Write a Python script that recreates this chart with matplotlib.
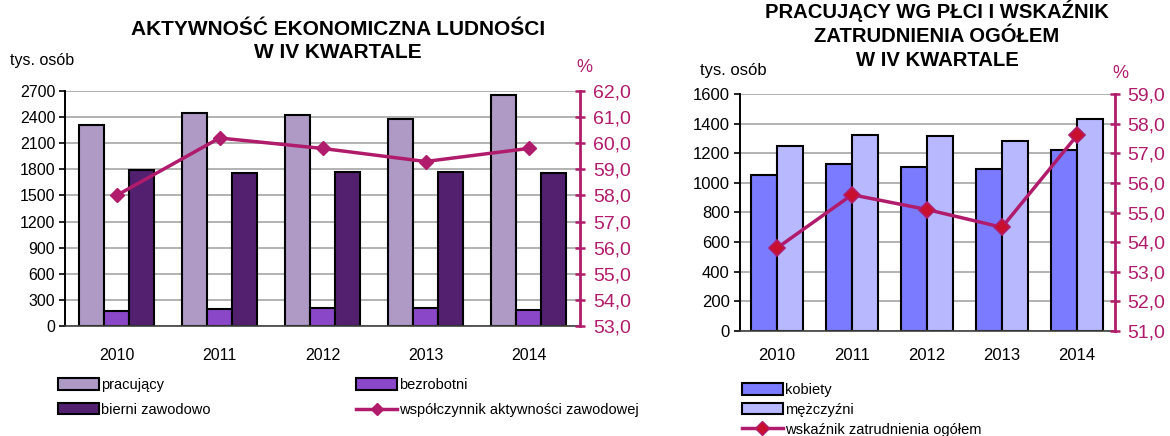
import numpy as np
import matplotlib.pyplot as plt
from matplotlib.patches import Patch
from matplotlib.lines import Line2D
from matplotlib.ticker import FuncFormatter

plt.rcParams['font.family'] = ['Liberation Sans', 'DejaVu Sans']

years = ['2010', '2011', '2012', '2013', '2014']

# aktywnosc ekonomiczna (tys. osob)
pracujacy = [2305, 2448, 2425, 2382, 2652]
bezrobotni = [177, 196, 208, 212, 188]
bierni = [1791, 1753, 1764, 1772, 1757]
wsp_aktywnosci = [58.0, 60.2, 59.8, 59.3, 59.8]

# pracujacy wg plci (tys. osob)
kobiety = [1052, 1125, 1107, 1095, 1225]
mezczyzni = [1252, 1323, 1318, 1284, 1430]
wsk_zatrudnienia = [53.8, 55.6, 55.1, 54.5, 57.6]

MAG = '#B01C6B'
GRID = '#A6A6A6'

fig = plt.figure(figsize=(11.7, 4.36), dpi=100)
W, H = 1170, 436


def box(x0, y0, x1, y1):
    return [x0 / W, 1 - y1 / H, (x1 - x0) / W, (y1 - y0) / H]


pct = FuncFormatter(lambda v, p: f'{v:.1f}'.replace('.', ','))


def style_axes(ax, ax2, ymax, ystep, rmin, rmax, xpad, lfs, rfs):
    ax.set_ylim(0, ymax)
    ax.set_yticks(np.arange(0, ymax + 1, ystep))
    ax.yaxis.grid(True, color=GRID, lw=1.2)
    ax.set_axisbelow(True)
    ax.set_xlim(-0.5, len(years) - 0.5)
    ax.set_xticks(range(len(years)))
    ax.set_xticklabels(years)
    ax.tick_params(axis='x', length=0, pad=xpad, labelsize=lfs)
    ax.tick_params(axis='y', direction='out', length=4, width=1.2, pad=3, labelsize=lfs)
    for s in ['top', 'right']:
        ax.spines[s].set_visible(False)
    ax.spines['left'].set_linewidth(1.4)
    ax.spines['bottom'].set_color('#404040')
    ax.spines['bottom'].set_linewidth(1.2)

    ax2.set_ylim(rmin, rmax)
    ax2.set_yticks(np.arange(rmin, rmax + 0.5, 1))
    ax2.yaxis.set_major_formatter(pct)
    ax2.tick_params(axis='y', colors=MAG, direction='inout', length=7, width=1.8,
                    pad=6, labelsize=rfs)
    for s in ['top', 'left', 'bottom']:
        ax2.spines[s].set_visible(False)
    ax2.spines['right'].set_color(MAG)
    ax2.spines['right'].set_linewidth(2)


x = np.arange(len(years))

# --- lewy wykres ---
ax1 = fig.add_axes(box(65, 91, 580, 326))
bw = 0.24
c_prac, c_bezr, c_bier = '#AE9AC4', '#8A48C8', '#53206F'
ax1.bar(x - bw, pracujacy, bw, color=c_prac, edgecolor='black', lw=1.5)
ax1.bar(x, bezrobotni, bw, color=c_bezr, edgecolor='black', lw=1.5)
ax1.bar(x + bw, bierni, bw, color=c_bier, edgecolor='black', lw=1.5)
ax1b = ax1.twinx()
ax1b.plot(x, wsp_aktywnosci, color=MAG, lw=2.5, marker='D', ms=7,
          mfc=MAG, mec=MAG)
style_axes(ax1, ax1b, 2700, 300, 53, 62, 16, 11.5, 14)

fig.text(338 / W, 1 - 41 / H, 'AKTYWNOŚĆ EKONOMICZNA LUDNOŚCI\nW IV KWARTALE',
         ha='center', va='center', fontsize=15, fontweight='bold',
         linespacing=1.27)
fig.text(10 / W, 1 - 60 / H, 'tys. osób', ha='left', va='center', fontsize=11.5)
fig.text(584 / W, 1 - 68 / H, '%', ha='center', va='center', fontsize=13, color=MAG)

h_left = [Patch(fc=c_prac, ec='black', lw=1.5),
          Patch(fc=c_bier, ec='black', lw=1.5),
          Patch(fc=c_bezr, ec='black', lw=1.5),
          Line2D([], [], color=MAG, lw=2.5, marker='D', ms=6, mfc=MAG, mec=MAG)]
l_left = ['pracujący', 'bierni zawodowo', 'bezrobotni',
          'współczynnik aktywności zawodowej']
fig.legend(h_left, l_left, loc='upper left', bbox_to_anchor=(58 / W, 1 - 378 / H),
           ncol=2, frameon=False, fontsize=10.5, handlelength=2.8, handleheight=0.8,
           handletextpad=0.15, columnspacing=10.0, labelspacing=0.75, borderpad=0,
           borderaxespad=0)

# --- prawy wykres ---
ax2 = fig.add_axes(box(739.5, 94, 1114.5, 331))
bw2 = 0.35
c_kob, c_mez = '#7B7BFF', '#B8B8FF'
ax2.bar(x - bw2 / 2, kobiety, bw2, color=c_kob, edgecolor='black', lw=1.5)
ax2.bar(x + bw2 / 2, mezczyzni, bw2, color=c_mez, edgecolor='black', lw=1.5)
ax2b = ax2.twinx()
ax2b.plot(x, wsk_zatrudnienia, color=MAG, lw=2.5, marker='D', ms=8,
          mfc='#C8102E', mec=MAG, mew=1.2)
style_axes(ax2, ax2b, 1600, 200, 51, 59, 12, 12, 14)

fig.text(937 / W, 1 - 35 / H,
         'PRACUJĄCY WG PŁCI I WSKAŹNIK\nZATRUDNIENIA OGÓŁEM\nW IV KWARTALE',
         ha='center', va='center', fontsize=14.6, fontweight='bold', linespacing=1.3)
fig.text(700 / W, 1 - 70 / H, 'tys. osób', ha='left', va='center', fontsize=12)
fig.text(1120 / W, 1 - 74 / H, '%', ha='center', va='center', fontsize=13, color=MAG)

h_right = [Patch(fc=c_kob, ec='black', lw=1.5),
           Patch(fc=c_mez, ec='black', lw=1.5),
           Line2D([], [], color=MAG, lw=2.5, marker='D', ms=7, mfc='#C8102E', mec=MAG)]
l_right = ['kobiety', 'mężczyźni', 'wskaźnik zatrudnienia ogółem']
fig.legend(h_right, l_right, loc='upper left', bbox_to_anchor=(742 / W, 1 - 383 / H),
           ncol=1, frameon=False, fontsize=10.5, handlelength=2.8, handleheight=0.8,
           handletextpad=0.15, labelspacing=0.4, borderpad=0, borderaxespad=0)

fig.savefig('out.png', dpi=100)
